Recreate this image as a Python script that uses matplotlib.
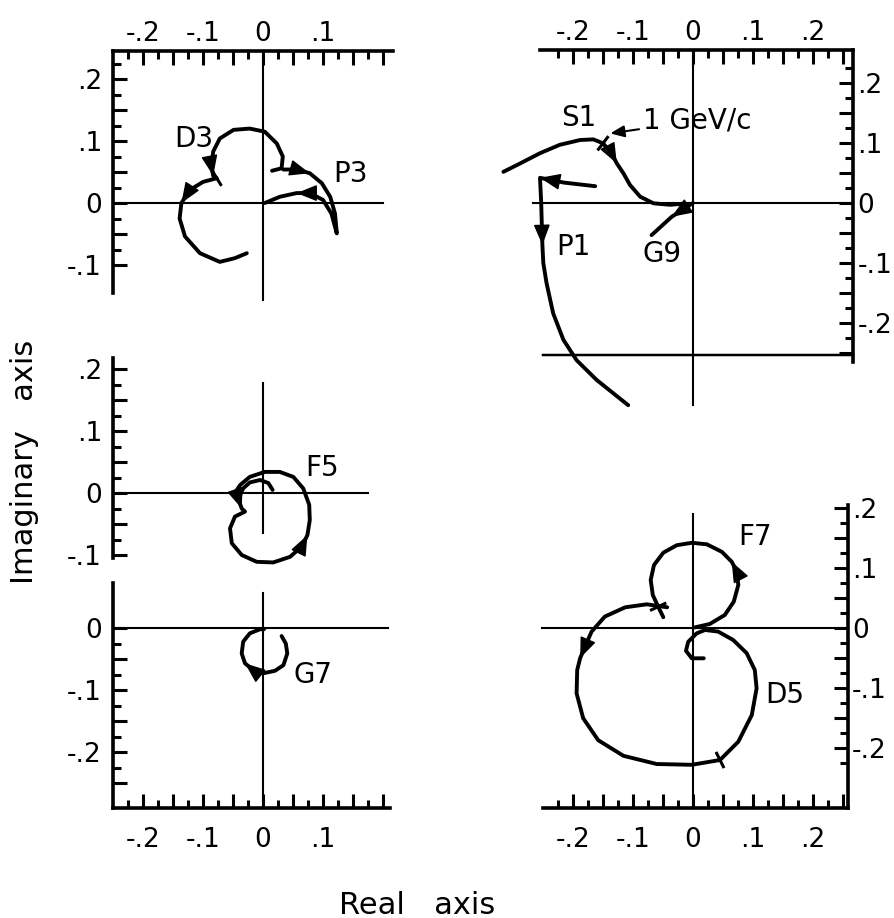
import numpy as np
import matplotlib
matplotlib.use("Agg")
import matplotlib.pyplot as plt

W, H = 895, 918
plt.rcParams['font.family'] = ['DejaVu Sans']

# Argand trajectories of the partial-wave amplitudes (Re, Im)
D3_RE = [0.015, 0.031, 0.033, 0.023, 0.003, -0.022, -0.049, -0.072, -0.083, -0.086, -0.083,
         -0.077, -0.100, -0.122, -0.136, -0.139, -0.130, -0.105, -0.072, -0.047, -0.027]
D3_IM = [0.052, 0.056, 0.075, 0.096, 0.115, 0.120, 0.118, 0.104, 0.083, 0.059, 0.044,
         0.040, 0.034, 0.021, 0.000, -0.025, -0.054, -0.081, -0.095, -0.089, -0.081]
D3_ARROWS = [10, 14]
D3_MARKS = [11]

P3_RE = [0.034, 0.056, 0.078, 0.098, 0.112, 0.120, 0.123, 0.114, 0.100, 0.078, 0.056, 0.028, 0.003]
P3_IM = [0.054, 0.054, 0.048, 0.032, 0.010, -0.017, -0.049, -0.017, 0.005, 0.016, 0.016, 0.010, 0.000]
P3_ARROWS = [2, 10]

S1_RE = [-0.316, -0.288, -0.255, -0.222, -0.188, -0.166, -0.150, -0.136, -0.127, -0.116,
         -0.105, -0.088, -0.066, -0.038, -0.015]
S1_IM = [0.052, 0.066, 0.083, 0.097, 0.105, 0.106, 0.0995, 0.083, 0.066, 0.0495,
         0.030, 0.0105, -0.0005, -0.003, -0.001]
S1_ARROWS = [8]
S1_MARKS = [6]

G9_RE = [0.0, -0.0355, -0.069]
G9_IM = [0.0, -0.023, -0.0535]
G9_ARROWS = [1]

P1_RE = [-0.163, -0.215, -0.255, -0.253, -0.251, -0.2495, -0.244, -0.233, -0.216, -0.194, -0.1605, -0.108]
P1_IM = [0.028, 0.034, 0.042, 0.0, -0.070, -0.100, -0.134, -0.184, -0.228, -0.262, -0.295, -0.337]
P1_ARROWS = [2, 4]

F5_RE = [0.016, 0.009, -0.005, -0.022, -0.033, -0.038, -0.0395, -0.0355, -0.030, -0.0467,
         -0.055, -0.052, -0.0355, -0.0105, 0.017, 0.045, 0.0645, 0.074, 0.078, 0.077,
         0.067, 0.0505, 0.028, 0.003, -0.022, -0.038, -0.047]
F5_IM = [0.005, 0.016, 0.021, 0.017, 0.0075, -0.003, -0.014, -0.025, -0.030, -0.038,
         -0.057, -0.081, -0.100, -0.111, -0.112, -0.103, -0.0865, -0.068, -0.0435, -0.019,
         0.0075, 0.026, 0.034, 0.034, 0.026, 0.013, 0.0]
F5_ARROWS = [7, 17]

G7_RE = [0.031, 0.038, 0.0405, 0.034, 0.020, 0.0005, -0.016, -0.030, -0.0355, -0.033, -0.022, -0.005, 0.0017]
G7_IM = [-0.013, -0.025, -0.041, -0.060, -0.069, -0.073, -0.068, -0.057, -0.041, -0.022, -0.0086, -0.002, -0.002]
G7_ARROWS = [7]

F7_RE = [0.003, 0.028, 0.053, 0.068, 0.0755, 0.073, 0.0645, 0.048, 0.023, -0.002, -0.027,
         -0.0495, -0.065, -0.0705, -0.067, -0.058, -0.0495]
F7_IM = [0.001, 0.0067, 0.0217, 0.044, 0.0717, 0.094, 0.1105, 0.127, 0.1395, 0.142, 0.138,
         0.1255, 0.105, 0.080, 0.055, 0.0355, 0.018]
F7_ARROWS = [6]
F7_MARKS = [15]

D5_RE = [-0.043, -0.077, -0.113, -0.147, -0.169, -0.180, -0.188, -0.193, -0.194, -0.183, -0.158,
         -0.116, -0.0605, -0.002, 0.045, 0.0755, 0.098, 0.106, 0.103, 0.0895, 0.067, 0.042,
         0.020, 0.006, -0.008, -0.0117, -0.002, 0.018]
D5_IM = [0.0345, 0.0395, 0.0345, 0.019, -0.006, -0.031, -0.050, -0.070, -0.109, -0.1505, -0.187,
         -0.213, -0.2267, -0.228, -0.220, -0.1895, -0.145, -0.1005, -0.070, -0.042, -0.020, -0.006,
         -0.0033, -0.009, -0.023, -0.038, -0.0505, -0.0505]
D5_ARROWS = [6]
D5_MARKS = [14]

LW_CURVE = 2.8
LW_FRAME = 2.6
LW_ZERO = 1.5
TICK_FS = 19
LABEL_FS = 20

fig = plt.figure(figsize=(W / 100, H / 100), dpi=100)


def panel(ox, oy, kx, ky, xlim, ylim):
    # place an axes so that data origin sits at pixel (ox, oy)
    left = ox + xlim[0] * kx
    right = ox + xlim[1] * kx
    top = oy - ylim[1] * ky
    bottom = oy - ylim[0] * ky
    ax = fig.add_axes([left / W, 1 - bottom / H, (right - left) / W, (bottom - top) / H])
    ax.set_xlim(*xlim)
    ax.set_ylim(*ylim)
    ax.set_facecolor('none')
    for s in ax.spines.values():
        s.set_visible(False)
    ax.set_xticks([])
    ax.set_yticks([])
    return ax


def fmt(v):
    k = int(round(v * 10))
    if k == 0:
        return '0'
    return ('-' if k < 0 else '') + '.' + str(abs(k))


def scale(ax, side, bounds, t0, t1, lab0, lab1, pad):
    sp = ax.spines[side]
    sp.set_visible(True)
    sp.set_bounds(*bounds)
    sp.set_linewidth(LW_FRAME)
    axis = ax.xaxis if side in ('top', 'bottom') else ax.yaxis
    allt = np.round(np.arange(t0, t1 + 1e-9, 0.025), 3)
    major = [t for t in allt if int(round(t * 40)) % 2 == 0]
    minor = [t for t in allt if int(round(t * 40)) % 2 == 1]
    labels = []
    for t in major:
        if int(round(t * 20)) % 2 == 0 and lab0 - 1e-9 <= t <= lab1 + 1e-9:
            labels.append(fmt(t))
        else:
            labels.append('')
    axis.set_ticks(major, labels=labels)
    axis.set_ticks(minor, minor=True)
    axis.set_ticks_position(side)
    name = 'x' if axis is ax.xaxis else 'y'
    ax.tick_params(axis=name, which='major', direction='in', length=10, width=2.2,
                   pad=pad, labelsize=TICK_FS)
    ax.tick_params(axis=name, which='minor', direction='in', length=6, width=2.2)


def zero_lines(ax, hx, vy):
    ax.plot(hx, [0, 0], color='k', lw=LW_ZERO, clip_on=False)
    ax.plot([0, 0], vy, color='k', lw=LW_ZERO, clip_on=False)


def curve(ax, re, im, arrows=(), marks=()):
    ax.plot(re, im, color='k', lw=LW_CURVE, solid_joinstyle='round',
            solid_capstyle='round', clip_on=False)
    p = ax.transData.transform(np.column_stack([re, im]))
    inv = ax.transData.inverted()
    for i in arrows:
        d = p[i] - p[i - 1]
        d = d / np.hypot(*d)
        tail = inv.transform(p[i] - 4 * d)
        ax.annotate('', xy=(re[i], im[i]), xytext=tail, annotation_clip=False,
                    arrowprops=dict(arrowstyle='-|>,head_length=0.8,head_width=0.32',
                                    color='k', lw=1, shrinkA=0, shrinkB=0,
                                    mutation_scale=16))
    for i in marks:
        d = p[i + 1] - p[i - 1]
        d = d / np.hypot(*d)
        n = np.array([-d[1], d[0]])
        seg = inv.transform(np.array([p[i] - 9 * n, p[i] + 9 * n]))
        ax.plot(seg[:, 0], seg[:, 1], color='k', lw=2.2, solid_capstyle='butt', clip_on=False)


# top left: D3, P3
ax = panel(263, 203, 600, 620, (-0.25, 0.22), (-0.16, 0.245))
scale(ax, 'top', (-0.25, 0.217), -0.225, 0.2, -0.2, 0.1, 3)
scale(ax, 'left', (-0.145, 0.245), -0.1, 0.225, -0.1, 0.2, 8)
zero_lines(ax, [-0.25, 0.2], [-0.156, 0.245])
curve(ax, D3_RE, D3_IM, D3_ARROWS, D3_MARKS)
curve(ax, P3_RE, P3_IM, P3_ARROWS)
ax.text(-0.115, 0.103, 'D3', fontsize=LABEL_FS, ha='center', va='center')
ax.text(0.145, 0.047, 'P3', fontsize=LABEL_FS, ha='center', va='center')

# middle left: F5
ax = panel(263, 493, 600, 620, (-0.25, 0.2), (-0.115, 0.22))
scale(ax, 'left', (-0.105, 0.218), -0.1, 0.2, -0.1, 0.2, 8)
zero_lines(ax, [-0.25, 0.175], [-0.065, 0.177])
curve(ax, F5_RE, F5_IM, F5_ARROWS)
ax.text(0.098, 0.04, 'F5', fontsize=LABEL_FS, ha='center', va='center')

# bottom left: G7
ax = panel(263, 628, 600, 620, (-0.25, 0.215), (-0.29, 0.075))
scale(ax, 'left', (-0.29, 0.073), -0.25, 0.0, -0.2, 0.0, 8)
scale(ax, 'bottom', (-0.25, 0.212), -0.225, 0.2, -0.2, 0.1, 14)
zero_lines(ax, [-0.25, 0.208], [-0.29, 0.056])
curve(ax, G7_RE, G7_IM, G7_ARROWS)
ax.text(0.083, -0.076, 'G7', fontsize=LABEL_FS, ha='center', va='center')

# top right: S1, P1, G9
ax = panel(693, 203, 600, 600, (-0.32, 0.267), (-0.34, 0.255))
scale(ax, 'top', (-0.255, 0.267), -0.225, 0.25, -0.2, 0.2, 3)
scale(ax, 'right', (-0.265, 0.255), -0.25, 0.225, -0.2, 0.2, 3)
ax.spines['bottom'].set_visible(True)
ax.spines['bottom'].set_position(('data', -0.253))
ax.spines['bottom'].set_bounds(-0.25, 0.267)
ax.spines['bottom'].set_linewidth(LW_ZERO * 1.2)
zero_lines(ax, [-0.267, 0.267], [-0.337, 0.255])
curve(ax, S1_RE, S1_IM, S1_ARROWS, S1_MARKS)
curve(ax, G9_RE, G9_IM, G9_ARROWS)
curve(ax, P1_RE, P1_IM, P1_ARROWS)
ax.text(-0.19, 0.142, 'S1', fontsize=LABEL_FS, ha='center', va='center')
ax.annotate('1 GeV/c', xy=(-0.138, 0.116), xytext=(-0.083, 0.137), fontsize=LABEL_FS,
            ha='left', va='center',
            arrowprops=dict(arrowstyle='-|>,head_length=0.6,head_width=0.25', color='k',
                            lw=1.5, shrinkA=1, shrinkB=0, mutation_scale=14))
ax.text(-0.2, -0.073, 'P1', fontsize=LABEL_FS, ha='center', va='center')
ax.text(-0.052, -0.085, 'G9', fontsize=LABEL_FS, ha='center', va='center')

# bottom right: F7, D5
ax = panel(693, 628, 600, 600, (-0.255, 0.258), (-0.30, 0.21))
scale(ax, 'right', (-0.30, 0.205), -0.225, 0.2, -0.2, 0.2, 3)
scale(ax, 'bottom', (-0.25, 0.258), -0.225, 0.25, -0.2, 0.2, 14)
zero_lines(ax, [-0.252, 0.257], [-0.30, 0.19])
curve(ax, F7_RE, F7_IM, F7_ARROWS, F7_MARKS)
curve(ax, D5_RE, D5_IM, D5_ARROWS, D5_MARKS)
ax.text(0.103, 0.152, 'F7', fontsize=LABEL_FS, ha='center', va='center')
ax.text(0.153, -0.112, 'D5', fontsize=LABEL_FS, ha='center', va='center')

fig.text(25 / W, 1 - 462 / H, 'Imaginary   axis', rotation=90, ha='center', va='center', fontsize=22)
fig.text(417 / W, 1 - 905 / H, 'Real   axis', ha='center', va='center', fontsize=22)

fig.savefig('out.png', dpi=100)
